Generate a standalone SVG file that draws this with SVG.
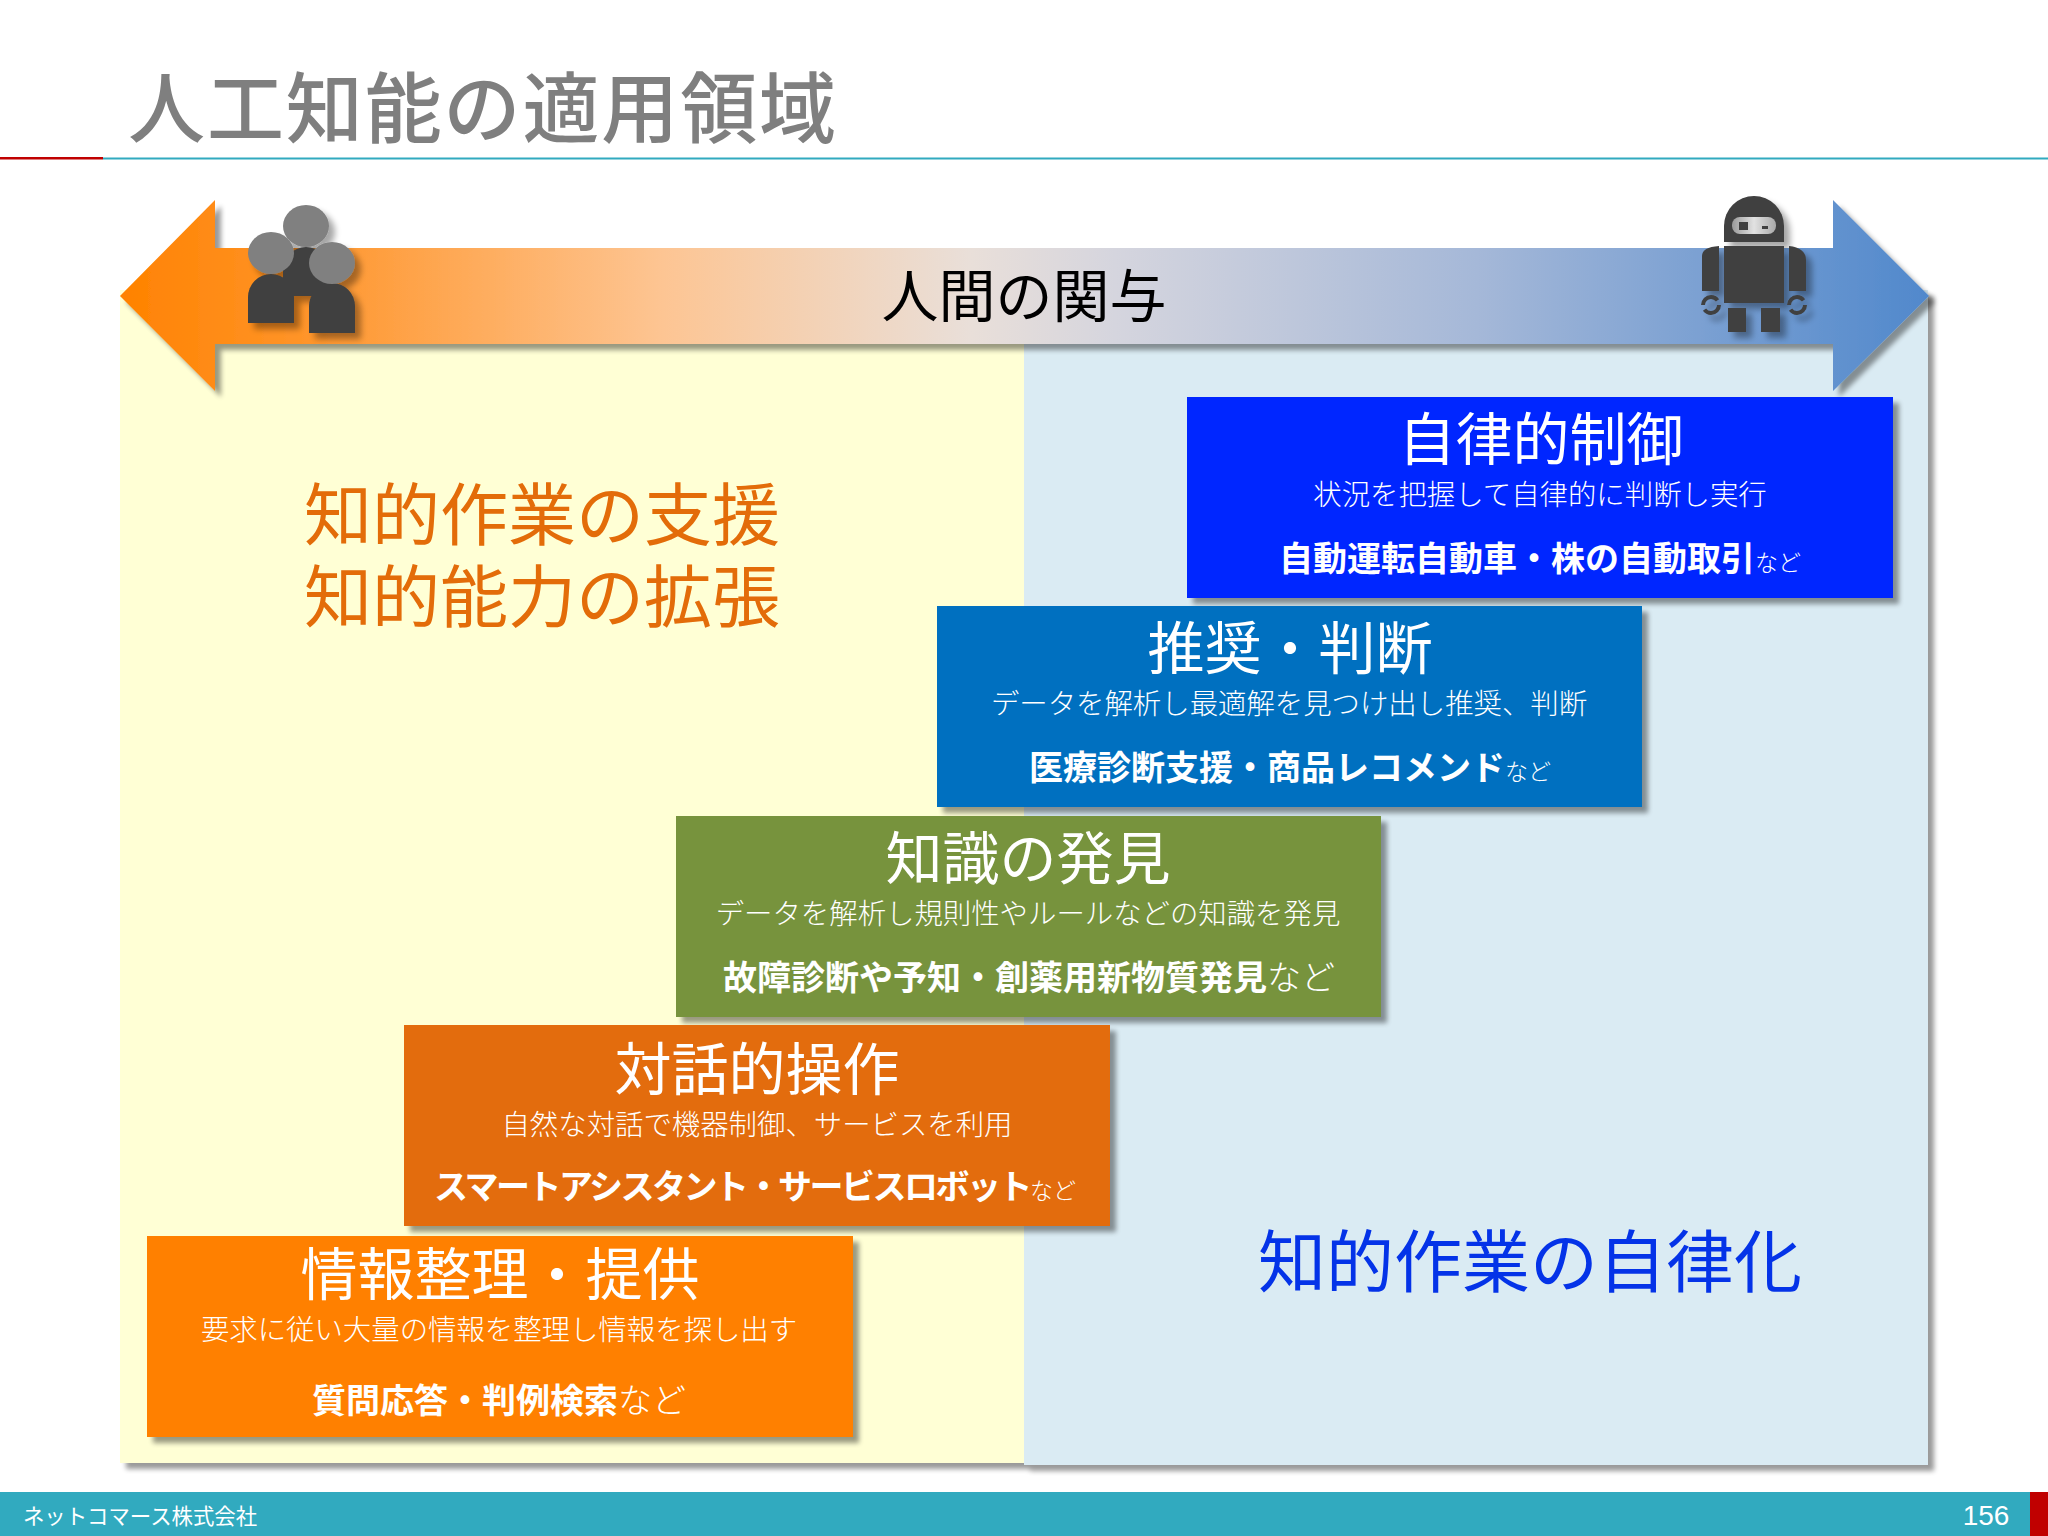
<svg xmlns="http://www.w3.org/2000/svg" width="2048" height="1536" viewBox="0 0 2048 1536">
<defs>
<linearGradient id="arrowGrad" x1="120" x2="1930" y1="0" y2="0" gradientUnits="userSpaceOnUse">
<stop offset="0" stop-color="#ff8200"/><stop offset="0.1" stop-color="#ff9428"/><stop offset="0.3" stop-color="#fdc593"/><stop offset="0.47" stop-color="#e9dfd9"/><stop offset="0.55" stop-color="#d5d5de"/><stop offset="0.75" stop-color="#a5b8d8"/><stop offset="1" stop-color="#5088cc"/>
</linearGradient>
<linearGradient id="eye" x1="0" x2="1" y1="0" y2="0"><stop offset="0" stop-color="#9a9a9a"/><stop offset="0.5" stop-color="#e2e2e2"/><stop offset="1" stop-color="#a8a8a8"/></linearGradient>
<filter id="sh" x="-5%" y="-5%" width="112%" height="112%"><feGaussianBlur in="SourceAlpha" stdDeviation="2.5"/><feOffset dx="6" dy="6"/><feComponentTransfer><feFuncA type="linear" slope="0.4"/></feComponentTransfer><feMerge><feMergeNode/><feMergeNode in="SourceGraphic"/></feMerge></filter>
<filter id="shIcon" x="-20%" y="-20%" width="150%" height="150%"><feGaussianBlur in="SourceAlpha" stdDeviation="3"/><feOffset dx="6" dy="6"/><feComponentTransfer><feFuncA type="linear" slope="0.35"/></feComponentTransfer><feMerge><feMergeNode/><feMergeNode in="SourceGraphic"/></feMerge></filter>
</defs>
<style>
text{font-family:"Noto Sans CJK JP","Liberation Sans",sans-serif;text-anchor:middle}
.h{font-size:57px;fill:#fff;font-weight:400}
.s{font-size:28.4px;fill:#fff;font-weight:300}
.b{font-size:34px;fill:#fff;font-weight:700}
.n{font-weight:300;font-size:23px;letter-spacing:0}
.n2{font-weight:300;font-size:34px}
.big{font-size:68px;font-weight:400}
.d{fill:#404040}.g{fill:#808080}
</style>
<rect width="2048" height="1536" fill="#fff"/>
<g id="title"><text x="482" y="137" font-size="77" fill="#7f7f7f" font-weight="500" textLength="708">人工知能の適用領域</text>
<rect x="0" y="157" width="103" height="2.5" fill="#c00000"/><rect x="103" y="157.5" width="1945" height="2" fill="#31aabf"/></g>
<g id="panels" filter="url(#sh)"><rect x="120" y="290" width="904" height="1173" fill="#ffffd5"/><rect x="1024" y="290" width="904" height="1175" fill="#daebf3"/></g>
<g id="arrow"><path filter="url(#sh)" d="M120 296L215 200V248H1833V200L1929 296L1833 391V344H215V391Z" fill="url(#arrowGrad)"/>
<text x="1024" y="317" font-size="57" fill="#000" font-weight="400">人間の関与</text></g>
<g id="people" filter="url(#shIcon)">
<path class="d" d="M248 323V297A23 23 0 0 1 294 297V323Z"/>
<path class="d" d="M283 296V270A23 23 0 0 1 329 270V296Z"/>
<path class="d" d="M309 333V306A23 23 0 0 1 355 306V333Z"/>
<ellipse class="g" cx="271" cy="253" rx="23" ry="21"/>
<ellipse class="g" cx="306" cy="226" rx="23" ry="21"/>
<ellipse class="g" cx="332" cy="263" rx="23" ry="21"/>
</g>
<g id="robot" filter="url(#shIcon)">
<path class="d" d="M1724 242V226A30 30 0 0 1 1784 226V242Z"/>
<rect class="d" x="1724" y="246" width="60" height="57"/>
<path class="d" d="M1702 291V256Q1702 247 1719 246V291Z"/>
<path class="d" d="M1789 246Q1806 248 1806 260V291H1789Z"/>
<rect class="d" x="1728" y="308" width="18" height="24"/><rect class="d" x="1761" y="308" width="19" height="24"/>
<circle cx="1711" cy="305" r="8" fill="none" stroke="#404040" stroke-width="4" stroke-dasharray="20 5"/>
<circle cx="1797" cy="305" r="8" fill="none" stroke="#404040" stroke-width="4" stroke-dasharray="20 5"/>
<rect x="1732" y="217" width="44" height="17" rx="8" fill="url(#eye)"/>
<rect class="d" x="1739" y="222" width="9" height="8"/><rect class="d" x="1762" y="226" width="6" height="3"/>
</g>
<text class="big" fill="#e36c09"><tspan x="542" y="540">知的作業の支援</tspan><tspan x="542" y="622">知的能力の拡張</tspan></text>
<text x="1530" y="1287" class="big" fill="#0433e8">知的作業の自律化</text>
<g id="box1"><rect x="1187" y="397" width="706" height="201" fill="#0028ff" filter="url(#sh)"/>
<text x="1541" y="460" class="h">自律的制御</text><text x="1540" y="505" class="s">状況を把握して自律的に判断し実行</text>
<text x="1540" y="571" class="b">自動運転自動車・株の自動取引<tspan class="n">など</tspan></text></g>
<g id="box2"><rect x="937" y="606" width="705" height="201" fill="#0070c0" filter="url(#sh)"/>
<text x="1290" y="669" class="h">推奨・判断</text><text x="1289" y="714" class="s">データを解析し最適解を見つけ出し推奨、判断</text>
<text x="1290" y="780" class="b">医療診断支援・商品レコメンド<tspan class="n">など</tspan></text></g>
<g id="box3"><rect x="676" y="816" width="705" height="201" fill="#77933c" filter="url(#sh)"/>
<text x="1028" y="879" class="h">知識の発見</text><text x="1028" y="924" class="s">データを解析し規則性やルールなどの知識を発見</text>
<text x="1029" y="990" class="b">故障診断や予知・創薬用新物質発見<tspan class="n2">など</tspan></text></g>
<g id="box4"><rect x="404" y="1025" width="706" height="201" fill="#e36c09" filter="url(#sh)"/>
<text x="757" y="1090" class="h">対話的操作</text><text x="757" y="1135" class="s">自然な対話で機器制御、サービスを利用</text>
<text x="755" y="1199" class="b" letter-spacing="-2.5">スマートアシスタント・サービスロボット<tspan class="n">など</tspan></text></g>
<g id="box5"><rect x="147" y="1236" width="706" height="201" fill="#ff8000" filter="url(#sh)"/>
<text x="500" y="1295" class="h">情報整理・提供</text><text x="499" y="1340" class="s">要求に従い大量の情報を整理し情報を探し出す</text>
<text x="499" y="1413" class="b">質問応答・判例検索<tspan class="n2">など</tspan></text></g>
<g id="footer"><rect x="0" y="1492" width="2048" height="44" fill="#31aabf"/><rect x="2030" y="1492" width="18" height="44" fill="#c00000"/>
<text x="140" y="1524" font-size="21.4" fill="#fff">ネットコマース株式会社</text>
<text x="1986" y="1525" font-size="28" fill="#fff" style="font-family:'Liberation Sans',sans-serif">156</text></g>
</svg>
